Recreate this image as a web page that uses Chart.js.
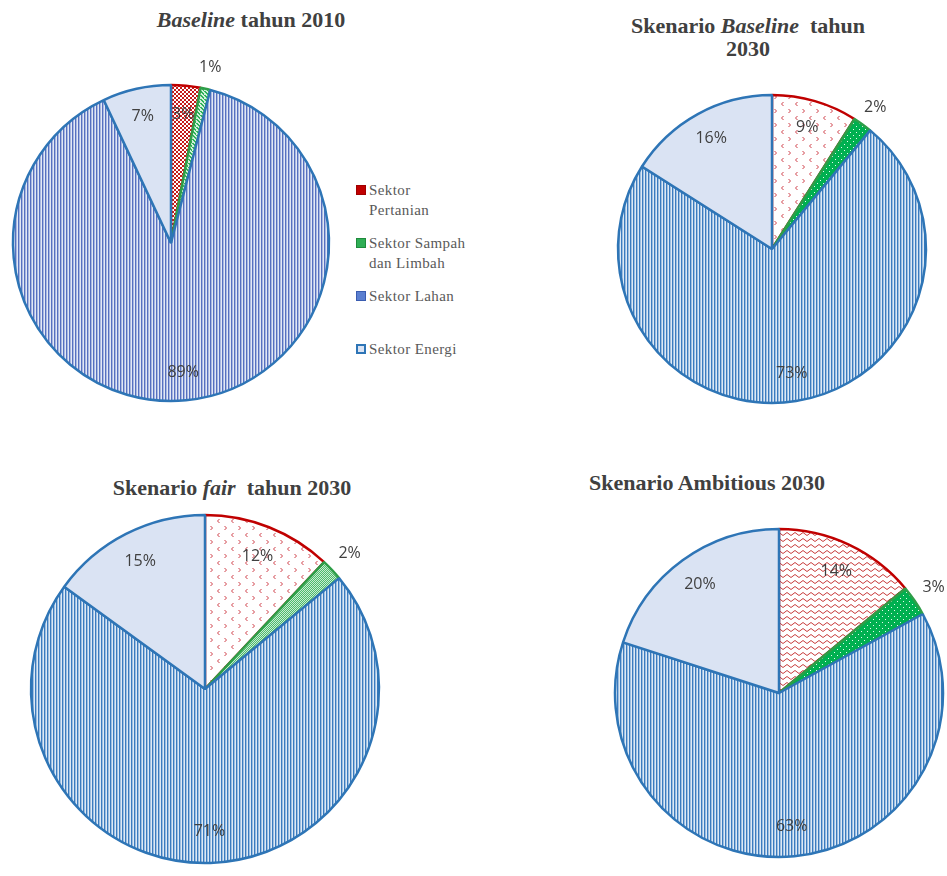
<!DOCTYPE html>
<html>
<head>
<meta charset="utf-8">
<script src="https://cdn.jsdelivr.net/npm/chart.js@4/dist/chart.umd.min.js"></script>
<style>
  body { margin: 0; width: 947px; height: 876px; position: relative; background: #fff; overflow: hidden; }
  .ttl { position: absolute; width: 400px; text-align: center; font-family: "Liberation Serif", serif; font-weight: bold; font-size: 22px; line-height: 23px; color: #404040; }
  canvas { position: absolute; }
  #legend { position: absolute; left: 356px; top: 180px; font-family: "Liberation Serif", serif; font-size: 15px; color: #595959; letter-spacing: 0.4px; white-space: nowrap; }
  .item { position: relative; height: 53px; padding-left: 13px; line-height: 20px; }
  .ico { position: absolute; left: 0; top: 5px; width: 8px; height: 8px; }
</style>
</head>
<body>
<div class="ttl" style="left:51px;top:8px"><i>Baseline</i> tahun 2010</div>
<div class="ttl" style="left:548px;top:14px">Skenario <i>Baseline</i>&nbsp; tahun<br>2030</div>
<div class="ttl" style="left:32px;top:476px">Skenario <i>fair</i>&nbsp; tahun 2030</div>
<div class="ttl" style="left:507px;top:471px">Skenario Ambitious 2030</div>

<canvas id="c1" width="342" height="400" style="left:0px;top:43px"></canvas>
<canvas id="c2" width="350" height="380" style="left:597px;top:59px"></canvas>
<canvas id="c3" width="400" height="370" style="left:5px;top:504px"></canvas>
<canvas id="c4" width="336" height="360" style="left:611px;top:513px"></canvas>
<div id="legend"></div>

<script>
// data (percent of emissions)
const categories = ['Sektor Pertanian', 'Sektor Sampah dan Limbah', 'Sektor Lahan', 'Sektor Energi'];
const baseline2010 = [3, 1, 89, 7];
const baseline2030 = [9, 2, 73, 16];
const fair2030 = [12, 2, 71, 15];
const ambitious2030 = [14, 3, 63, 20];

// small helper to build a repeating fill pattern
function makePattern(w, h, bg, draw) {
    const c = document.createElement('canvas');
    c.width = w; c.height = h;
    const g = c.getContext('2d');
    g.fillStyle = bg;
    g.fillRect(0, 0, w, h);
    draw(g);
    return g.createPattern(c, 'repeat');
}

const red = '#c00000';
const green = '#00b050';
const blue = '#2e75b6';
const lightBlue = '#dae3f3';

// red fills
const redDots = makePattern(4, 4, '#fff', g => {
    g.fillStyle = '#c41a1a';
    g.fillRect(0, 0, 2, 2);
    g.fillRect(2, 2, 2, 2);
});
const redChevrons = makePattern(14, 14, '#fff', g => {
    g.strokeStyle = '#d0404a';
    g.lineWidth = 1;
    g.beginPath();
    g.moveTo(4.5, 1); g.lineTo(2.5, 3); g.lineTo(4.5, 5);
    g.moveTo(9.5, 8); g.lineTo(11.5, 10); g.lineTo(9.5, 12);
    g.stroke();
});
const redWaves = makePattern(8, 6, '#fff', g => {
    g.strokeStyle = '#c83c3c';
    g.lineWidth = 1;
    g.beginPath();
    g.moveTo(0, 1.5); g.lineTo(4, 4.5); g.lineTo(8, 1.5);
    g.stroke();
});

// green fills
const greenDiag = makePattern(4, 4, '#d4f0dc', g => {
    g.fillStyle = '#2fb35a';
    for (let i = 0; i < 4; i++) g.fillRect(i, i, 2, 1);
});
const greenDotted = makePattern(6, 6, green, g => {
    g.fillStyle = '#e8f8ee';
    g.fillRect(1, 1, 1, 1);
    g.fillRect(4, 4, 1, 1);
});
const greenCheck = makePattern(2, 2, '#c9ebd2', g => {
    g.fillStyle = '#4cbb6c';
    g.fillRect(0, 0, 1, 1);
    g.fillRect(1, 1, 1, 1);
});

// blue vertical stripes for Lahan
const stripes1 = makePattern(3, 4, '#e2e8f5', g => {
    g.fillStyle = '#5670c0';
    g.fillRect(0, 0, 1, 4);
    g.fillStyle = '#a9b8e0';
    g.fillRect(1, 0, 1, 4);
});
const stripes2 = makePattern(3, 4, '#dde9f5', g => {
    g.fillStyle = '#3b7bbf';
    g.fillRect(0, 0, 1, 4);
    g.fillStyle = '#9ebfe0';
    g.fillRect(1, 0, 1, 4);
});

// draws the percentage labels; the green slice label sits outside the pie
const pctLabels = {
    id: 'pctLabels',
    afterDatasetsDraw(chart) {
        const ctx = chart.ctx;
        const vals = chart.data.datasets[0].data;
        ctx.save();
        ctx.font = '16px "Open Sans"';
        ctx.fillStyle = '#404040';
        ctx.textAlign = 'center';
        ctx.textBaseline = 'middle';
        chart.getDatasetMeta(0).data.forEach((arc, i) => {
            const p = arc.getProps(['x', 'y', 'startAngle', 'endAngle', 'outerRadius'], true);
            const mid = (p.startAngle + p.endAngle) / 2;
            const f = i === 1 ? 1.14 : 0.82;
            ctx.fillText(vals[i] + '%', p.x + Math.cos(mid) * p.outerRadius * f, p.y + Math.sin(mid) * p.outerRadius * f);
        });
        ctx.restore();
    }
};

function pie(id, values, radius, redFill, greenFill, lahanFill) {
    new Chart(document.getElementById(id), {
        type: 'pie',
        data: {
            labels: categories,
            datasets: [{
                data: values,
                backgroundColor: [redFill, greenFill, lahanFill, lightBlue],
                borderColor: [red, '#2e9e48', blue, blue],
                borderWidth: 2.5,
                radius: radius
            }]
        },
        options: {
            responsive: false,
            animation: false,
            plugins: { legend: { display: false }, tooltip: { enabled: false } }
        },
        plugins: [pctLabels]
    });
}

pie('c1', baseline2010, 158, redDots, greenDiag, stripes1);
pie('c2', baseline2030, 154, redChevrons, greenDotted, stripes2);
pie('c3', fair2030, 174, redChevrons, greenCheck, stripes2);
pie('c4', ambitious2030, 164, redWaves, greenDotted, stripes2);

// legend next to the first pie, wrapped like the original (about 14 chars per line)
function wrap(text) {
    const lines = [];
    text.split(' ').forEach(w => {
        const last = lines[lines.length - 1];
        if (last && (last + ' ' + w).length <= 14) lines[lines.length - 1] = last + ' ' + w;
        else lines.push(w);
    });
    return lines.join('<br>');
}
const icons = [
    'background:' + red + ';border:1px solid #a00000',
    'background:#2fae55;border:1px solid #1e8a3c',
    'background:#5b7fd0;border:1px solid #3a5cb0',
    'background:' + lightBlue + ';border:2px solid ' + blue + ';width:6px;height:6px'
];
document.getElementById('legend').innerHTML = categories.map((c, i) =>
    `<div class="item"><span class="ico" style="${icons[i]}"></span>${wrap(c)}</div>`
).join('');
</script>
</body>
</html>
